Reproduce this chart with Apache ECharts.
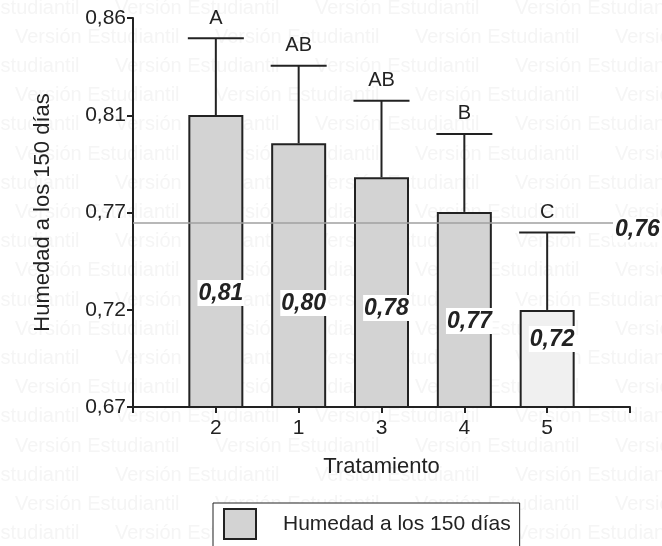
<!DOCTYPE html>
<html>
<head>
<meta charset="utf-8">
<script src="https://cdn.jsdelivr.net/npm/echarts@6/dist/echarts.min.js"></script>
<style>html,body{margin:0;padding:0;background:#fff}#c{width:662px;height:546px}</style>
</head>
<body>
<div id="c"></div>
<script>
// ---- data ----
const categories = ['2', '1', '3', '4', '5'];
const means = [0.8126, 0.7988, 0.7822, 0.7653, 0.7174];
const upperErr = [0.8501, 0.8367, 0.8196, 0.8034, 0.7552];
const letters = ['A', 'AB', 'AB', 'B', 'C'];
const refValue = 0.7584;
const yTickValues = [0.67, 0.7175, 0.765, 0.8125, 0.86];
const yTickLabels = ['0,67', '0,72', '0,77', '0,81', '0,86'];
const seriesName = 'Humedad a los 150 días';

// ---- styles ----
const barColors = ['#d3d3d3', '#d3d3d3', '#d3d3d3', '#d3d3d3', '#f0f0f0'];
const labelDistance = [102, 92, 87, 74, 56];
const FONT = "'Liberation Sans', Arial, sans-serif";
const INK = '#222';

const fmt = v => v.toFixed(2).replace('.', ',');
const xCats = [''].concat(categories, ['']);

const barData = ['-'].concat(means.map((v, i) => ({
  value: v,
  itemStyle: { color: barColors[i] },
  label: { distance: labelDistance[i] }
})), ['-']);

const errData = means.map((v, i) => [i + 1, v, upperErr[i]]);

// watermark
const wm = [];
for (let r = 0; r < 19; r++) {
  const y = 8 + r * 29.2;
  const start = (r % 2 === 0) ? -85 : 15;
  for (let k = 0; k < 5; k++) {
    wm.push({
      type: 'text', z: -10, silent: true,
      style: { x: start + k * 200, y: y, text: 'Versión Estudiantil', fill: '#f5f5f5',
        font: '20px ' + FONT, textVerticalAlign: 'middle' }
    });
  }
}

const chart = echarts.init(document.getElementById('c'));
chart.setOption({
  animation: false,
  backgroundColor: '#fff',
  textStyle: { fontFamily: FONT },
  graphic: { elements: wm, z: -10 },
  grid: { left: 133, right: 32, top: 18, bottom: 139, containLabel: false },
  legend: {
    data: [{ name: seriesName, icon: 'rect' }],
    left: 213, top: 503,
    padding: [5, 9, 12, 10],
    borderColor: INK, borderWidth: 1,
    backgroundColor: '#fff',
    itemWidth: 32, itemHeight: 30,
    textStyle: { fontSize: 21, color: INK, fontFamily: FONT, padding: [0, 0, 0, 22] }
  },
  xAxis: {
    type: 'category', data: xCats, boundaryGap: false,
    name: 'Tratamiento', nameLocation: 'middle', nameGap: 49,
    nameTextStyle: { fontSize: 22, color: INK, fontFamily: FONT },
    axisLine: { lineStyle: { color: INK, width: 2 } },
    axisTick: { length: 6, lineStyle: { color: INK, width: 2 } },
    axisLabel: { fontSize: 21, color: INK, margin: 11, fontFamily: FONT, interval: 0 },
    splitLine: { show: false }
  },
  yAxis: {
    type: 'value', min: 0.67, max: 0.86,
    name: seriesName, nameLocation: 'middle', nameGap: 79, nameRotate: 90,
    nameTextStyle: { fontSize: 22, color: INK, fontFamily: FONT },
    axisLine: { show: true, lineStyle: { color: INK, width: 2 } },
    axisTick: { show: true, length: 6, customValues: yTickValues, lineStyle: { color: INK, width: 2 } },
    axisLabel: {
      fontSize: 21, color: INK, margin: 7, fontFamily: FONT, customValues: yTickValues,
      formatter: v => {
        let best = 0;
        yTickValues.forEach((t, i) => { if (Math.abs(t - v) < Math.abs(yTickValues[best] - v)) best = i; });
        return yTickLabels[best];
      }
    },
    splitLine: { show: false }
  },
  series: [
    {
      name: seriesName, type: 'bar', data: barData, barWidth: 55,
      itemStyle: { color: '#d3d3d3', borderColor: INK, borderWidth: 2 },
      label: {
        show: true, position: 'insideBottom', offset: [5, 0],
        formatter: p => fmt(p.value),
        fontSize: 23, fontWeight: 'bold', fontStyle: 'italic', color: INK,
        backgroundColor: '#fff', padding: [2, 1, 1, 1], fontFamily: FONT
      },
      markLine: {
        symbol: 'none', silent: true,
        lineStyle: { color: '#a0a0a0', width: 1.5, type: 'solid' },
        label: {
          show: true, position: 'end', distance: -17, offset: [0, 7],
          formatter: p => fmt(p.value),
          fontSize: 23, fontWeight: 'bold', fontStyle: 'italic', color: INK,
          backgroundColor: '#fff', padding: [2, 2, 0, 2], fontFamily: FONT
        },
        data: [{ yAxis: refValue }]
      },
      z: 2
    },
    {
      type: 'custom', name: 'err', data: errData, z: 3,
      renderItem: (params, api) => {
        const top = api.coord([api.value(0), api.value(2)]);
        const base = api.coord([api.value(0), api.value(1)]);
        const half = 28;
        const st = { stroke: INK, lineWidth: 2 };
        return {
          type: 'group',
          children: [
            { type: 'line', shape: { x1: top[0], y1: base[1], x2: top[0], y2: top[1] }, style: st },
            { type: 'line', shape: { x1: top[0] - half, y1: top[1], x2: top[0] + half, y2: top[1] }, style: st },
            { type: 'text', style: { x: top[0], y: top[1] - 10, text: letters[params.dataIndex],
                fill: INK, font: '20px ' + FONT, textAlign: 'center', textVerticalAlign: 'bottom' } }
          ]
        };
      }
    }
  ]
});
</script>
</body>
</html>
